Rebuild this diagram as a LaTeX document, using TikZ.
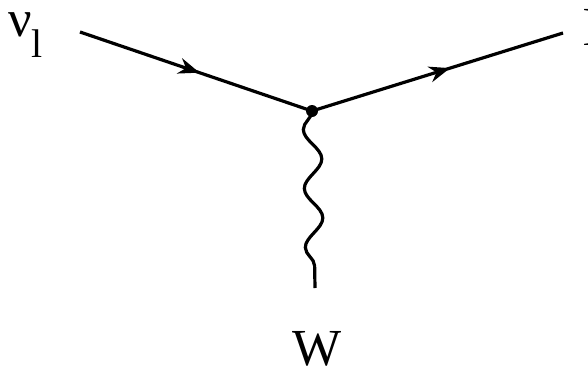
\documentclass[tikz,border=0pt]{standalone}
\usepackage{fontspec}
\setmainfont{Liberation Serif}
\usetikzlibrary{arrows.meta}
\usetikzlibrary{decorations.markings,decorations.pathmorphing}
\tikzstyle{label} = [inner sep=0pt, font=\fontsize{52}{56}\selectfont]
\tikzstyle{fermion} = [draw, line width=3.2pt, postaction={decorate}]
\tikzstyle{boson} = [draw, line width=3.2pt, decorate, decoration={snake, amplitude=9pt, segment length=59pt, mirror}]
\tikzstyle{vertex} = [circle, fill=black, inner sep=0pt, minimum size=12pt]
\newcommand{\flavsub}[1]{\raisebox{-0.42em}{\fontsize{40}{40}\selectfont #1}}

\begin{document}
\begin{tikzpicture}[x=1pt, y=-1pt]
    \useasboundingbox (0,0) rectangle (588,367);

    % the labels
    \node[label, anchor=base west] (nu) at (8,36) {ν\flavsub{l}};
    \node[label, anchor=base west] (lep) at (583,45) {l};
    \node[label, anchor=base] (W) at (317,365) {W};

    % the vertex and the free ends
    \node[vertex] (V) at (312,111) {};
    \coordinate (in) at (80,32);
    \coordinate (out) at (563,33);
    \coordinate (wend) at (315,288);

    % the lines
    \path[fermion, decoration={markings, mark=at position 0.515 with {\arrow{Stealth[length=21pt, width=16pt]}}}] (in) -- (V.center);
    \path[fermion, decoration={markings, mark=at position 0.55 with {\arrow{Stealth[length=21pt, width=16pt]}}}] (V.center) -- (out);
    \path[boson] (V.center) -- (wend);
\end{tikzpicture}
\end{document}
